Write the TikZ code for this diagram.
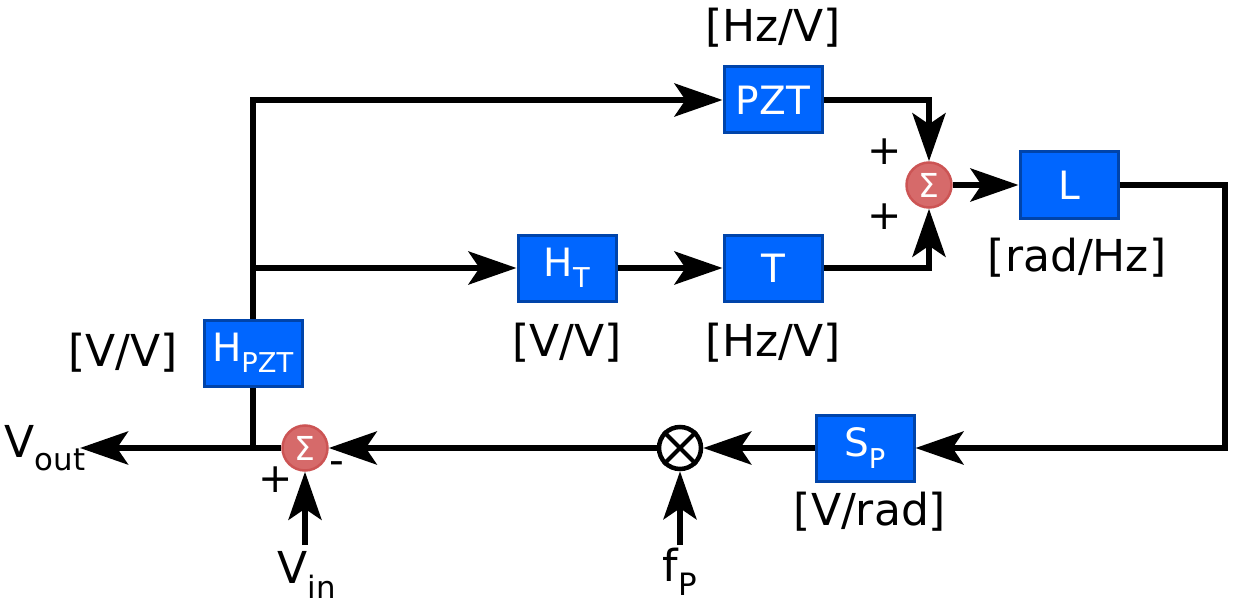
\documentclass[tikz,border=0pt]{standalone}
\usepackage{fontspec}
\setmainfont{DejaVu Sans}
\usetikzlibrary{arrows.meta}
\definecolor{blkfill}{RGB}{0,102,255}
\definecolor{blkborder}{RGB}{0,68,170}
\definecolor{sumfill}{RGB}{214,106,106}
\definecolor{sumborder}{RGB}{204,84,84}
\begin{document}
\begin{tikzpicture}[x=1pt,y=-1pt,
  blk/.style={draw=blkborder, fill=blkfill, line width=3pt, minimum width=98pt, minimum height=66pt, text=white, inner sep=0pt, font=\fontsize{39}{42}\selectfont},
  sumc/.style={circle, draw=sumborder, fill=sumfill, line width=2.5pt, minimum size=45pt, inner sep=0pt, text=white, font=\fontsize{33}{35}\selectfont},
  multc/.style={circle, draw=black, fill=white, line width=4.5pt, minimum size=42pt, inner sep=0pt},
  wire/.style={line width=6pt},
  arr/.style={wire, -{Stealth[length=48pt,width=33pt,inset=11pt]}},
  lbl/.style={font=\fontsize{44}{46}\selectfont, inner sep=0pt},
  sgn/.style={font=\fontsize{41}{43}\selectfont, inner sep=0pt}]
\useasboundingbox (0,0) rectangle (1237,607);
% blocks
\node[blk] (pzt) at (773,100) {PZT};
\node[blk] (ht) at (567,268) {H\textsubscript{T}};
\node[blk] (t) at (773,268) {T};
\node[blk] (l) at (1069,185) {L};
\node[blk] (sp) at (865,448) {S\textsubscript{P}};
\node[blk] (hpzt) at (253,353) {H\textsubscript{PZT}};
% junctions
\node[sumc] (s1) at (929,185) {Σ};
\node[sumc] (s2) at (305,448) {Σ};
\node[multc] (mx) at (680,448) {};
\draw[line width=4pt] (mx.45) -- (mx.225) (mx.135) -- (mx.315);
% coordinates
\coordinate (j1) at (253,448);
\coordinate (j2) at (253,268);
\coordinate (rc) at (1225,448);
\coordinate (fp) at (680,545);
\coordinate (vin) at (305,545);
\coordinate (vout) at (80,448);
% connectors
\draw[arr] (hpzt.north) |- (pzt.west);
\draw[wire] (j1) -- (hpzt.south);
\draw[arr] (j2) -- (ht.west);
\draw[arr] (ht.east) -- (t.west);
\draw[arr] (pzt.east) -| (s1.north);
\draw[arr] (t.east) -| (s1.south);
\draw[arr] (s1.east) -- (l.west);
\draw[arr] (l.east) -| (rc) -- (sp.east);
\draw[arr] (sp.west) -- (mx.east);
\draw[arr] (fp) -- (mx.south);
\draw[arr] (mx.west) -- (s2.east);
\draw[arr] (vin) -- (s2.south);
\draw[arr] (s2.west) -- (vout);
% labels
\node[lbl] (lpzt) at (773,28) {[Hz/V]};
\node[lbl] (ll) at (1077,258) {[rad/Hz]};
\node[lbl] (lht) at (567,343) {[V/V]};
\node[lbl] (lt) at (773,343) {[Hz/V]};
\node[lbl] (lhpzt) at (123,353) {[V/V]};
\node[lbl] (lsp) at (870,512) {[V/rad]};
\node[lbl] (lvin) at (307,575) {V\textsubscript{in}};
\node[lbl] (lfp) at (680,572) {f\textsubscript{P}};
\node[lbl, anchor=east] (lvout) at (86,448) {V\textsubscript{out}};
\node[sgn] (p1) at (885,152) {+};
\node[sgn] (p2) at (885,217) {+};
\node[sgn] (p3) at (276,480) {+};
\node[sgn] (m1) at (337,468) {-};
\end{tikzpicture}
\end{document}
